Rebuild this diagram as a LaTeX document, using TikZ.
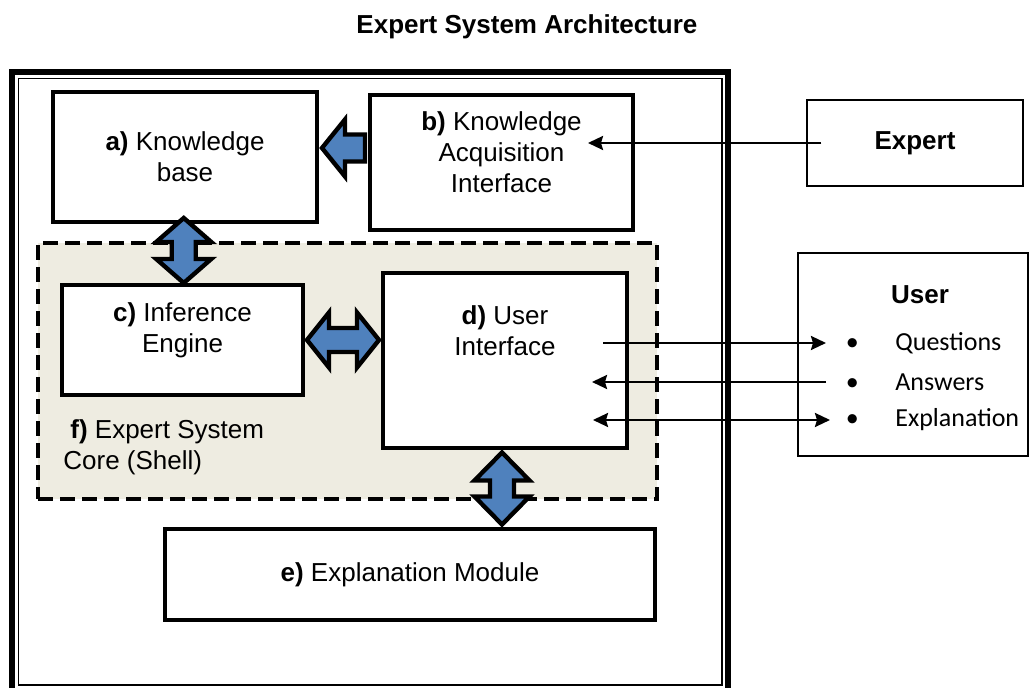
\documentclass[tikz,border=0pt]{standalone}
\usepackage{fontspec}
\setmainfont{Liberation Sans}
\newfontfamily\calibfont{Carlito}
\usetikzlibrary{arrows.meta,calc}
\definecolor{boxblue}{HTML}{4F81BD}
\definecolor{shellbg}{HTML}{EEECE1}

\tikzset{
  blockarrow/.style={draw=black, line width=2.2pt, fill=boxblue, line join=miter},
  pics/dblarrow/.style 2 args={code={
    \draw[blockarrow] (-#1,0) -- (-#1+#2,27.5) -- (-#1+#2,12) -- (#1-#2,12) -- (#1-#2,27.5)
      -- (#1,0) -- (#1-#2,-27.5) -- (#1-#2,-12) -- (-#1+#2,-12) -- (-#1+#2,-27.5) -- cycle;
  }},
  pics/sglarrow/.style 2 args={code={
    \draw[blockarrow] (-#1,0) -- (-#1+#2,28.5) -- (-#1+#2,13.5) -- (#1,13.5)
      -- (#1,-13.5) -- (-#1+#2,-13.5) -- (-#1+#2,-28.5) -- cycle;
  }}
}

\begin{document}
\begin{tikzpicture}[x=0.5pt, y=-0.5pt]
    \useasboundingbox (0,0) rectangle (1030,688);
    \clip (0,0) rectangle (1030,688);
    \begin{scope}[
        >={Stealth[length=7.5pt,width=7pt,inset=1pt]},
        every node/.style={font=\fontsize{13}{15.5}\selectfont},
        every edge/.style={draw=black,line width=1.2pt},
        box/.style={draw,line width=2.4pt,fill=white,align=center,inner sep=0pt},
        ext/.style={draw,line width=0.75pt,fill=white,inner sep=0pt},
        shell/.style={draw,fill=shellbg,line width=2pt,dash pattern=on 7.5pt off 3.5pt},
        lbl/.style={align=center},
        item/.style={anchor=west,inner sep=0pt,font=\calibfont\fontsize{13}{15.5}\selectfont}
        ]
        % outer frame
        \draw[line width=3pt] (12,72) rectangle (728,694);
        \draw[line width=0.75pt] (18.5,78.5) rectangle (722,685);

        \node (title) at (527,27) {\textbf{Expert System Architecture}};

        \node[shell, minimum width=309.5pt, minimum height=128pt] (core) at (347.5,371) {};
        \node[anchor=west, align=left, inner sep=0pt] (corelbl) at (63,447.5)
            {\hspace{3.5pt}\textbf{f)} Expert System\\Core (Shell)};

        \node[box, minimum width=132pt, minimum height=65pt] (kb) at (185,157)
            {\textbf{a)} Knowledge\\base};
        \node[box, minimum width=131.5pt, minimum height=67.5pt,
            label={[lbl,yshift=5pt]center:{\textbf{b)} Knowledge\\Acquisition\\Interface}}] (kai) at (501.5,162.5) {};
        \node[box, minimum width=120.5pt, minimum height=55pt,
            label={[lbl,yshift=5pt]center:{\textbf{c)} Inference\\Engine}}] (ie) at (182.5,340) {};
        \node[box, minimum width=122pt, minimum height=87.5pt,
            label={[lbl,yshift=14.75pt]center:{\textbf{d)} User\\Interface}}] (ui) at (505,360.5) {};
        \node[box, minimum width=245pt, minimum height=45.5pt] (em) at (410,574.5)
            {\textbf{e)} Explanation Module};

        \node[ext, minimum width=108pt, minimum height=43pt] (expert) at (915,143) {\textbf{Expert}};
        \node[ext, minimum width=115pt, minimum height=101.5pt] (user) at (913,354.5) {};
        \node (usrtitle) at (920,295) {\textbf{User}};
        \node[item] (qst) at (826,343) {\makebox[26pt]{\textbullet}\hspace{8.5pt}Questions};
        \node[item] (ans) at (826,382) {\makebox[26pt]{\textbullet}\hspace{8.5pt}Answers};
        \node[item] (xpl) at (830,420) {\makebox[22pt]{\textbullet}\hspace{10.5pt}Explanation};

        % block arrows
        \pic at ($(kb.east)!.5!(kb.east -| kai.west)+(0,-9)$) {sglarrow={21.5}{23}};
        \pic[rotate=90] at ($(kb.south)!.5!(ie.north)+(0,-3)$) {dblarrow={32.5}{24}};
        \pic at ($(ie.east)!.5!(ie.east -| ui.west)$) {dblarrow={36}{22}};
        \pic[rotate=90] at ($(ui.south)!.5!(ui.south |- em.north)+(-3,0)$) {dblarrow={36}{28}};

        % message arrows
        \coordinate (bin) at (588,143);
        \coordinate (qin) at (603,343);
        \coordinate (ain) at (592,382);
        \coordinate (xin) at (593,420);
        \path [->] ([xshift=7.5pt]expert.west) edge (bin);
        \path [->] (qin) edge (qst.west);
        \path [->] (ans.west) edge (ain);
        \path [<->] (xin) edge (xpl.west);
    \end{scope}
\end{tikzpicture}
\end{document}
